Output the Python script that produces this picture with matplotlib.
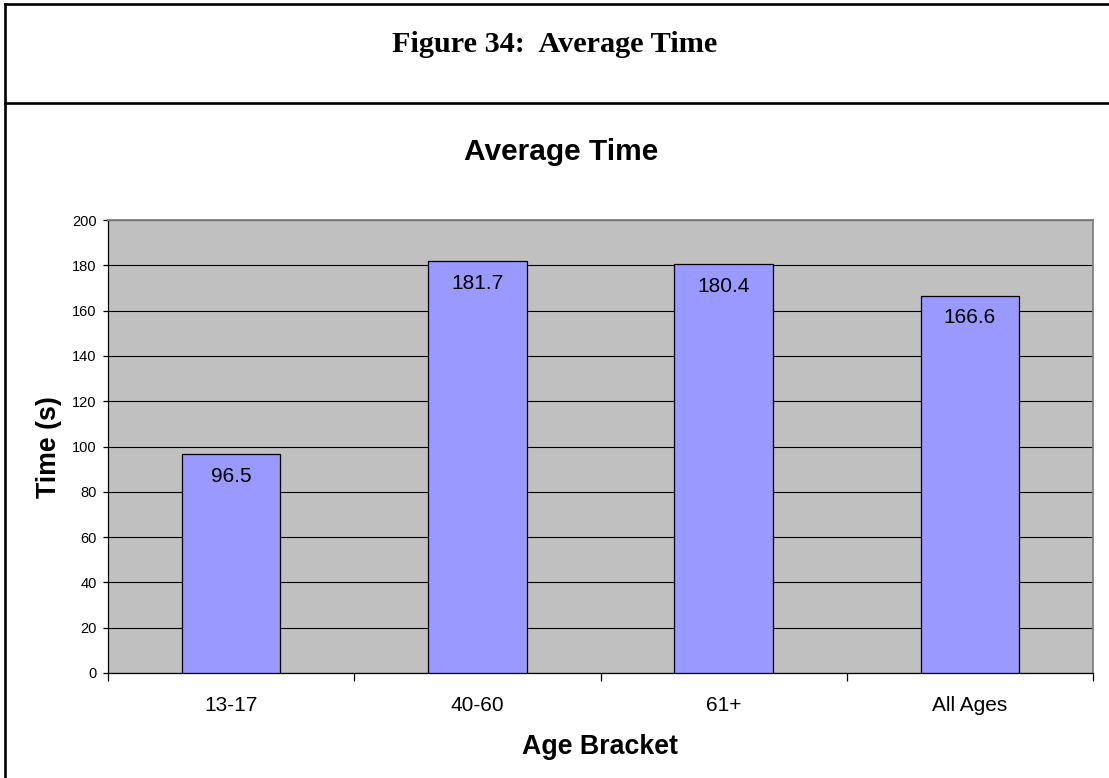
import matplotlib
matplotlib.use("Agg")
import matplotlib.pyplot as plt
from matplotlib.lines import Line2D
import numpy as np

# Data
categories = ["13-17", "40-60", "61+", "All Ages"]
avg_time = [96.5, 181.7, 180.4, 166.6]
y_ticks = [0, 20, 40, 60, 80, 100, 120, 140, 160, 180, 200]

W, H = 1109, 778
fig = plt.figure(figsize=(W / 100, H / 100), dpi=100)
fig.patch.set_facecolor("white")


def fx(px):
    return px / W


def fy(py):
    return 1 - py / H


# Frame around the figure caption and chart
frame_kw = dict(color="black", linewidth=1.9, transform=fig.transFigure,
                solid_capstyle="projecting")
fig.add_artist(Line2D([fx(5), fx(W)], [fy(4), fy(4)], **frame_kw))
fig.add_artist(Line2D([fx(5), fx(W)], [fy(103), fy(103)], **frame_kw))
fig.add_artist(Line2D([fx(5), fx(5)], [fy(4), fy(H)], **frame_kw))

fig.text(fx(554.5), fy(52), "Figure 34:  Average Time",
         family="Liberation Serif", fontweight="bold", fontsize=21.8,
         ha="center", va="baseline")

fig.text(fx(561), fy(160), "Average Time",
         family="Liberation Sans", fontweight="bold", fontsize=21.5,
         ha="center", va="baseline")

# Plot area
left, right, top, bottom = 108, 1093, 220, 673
ax = fig.add_axes([fx(left), fy(bottom), fx(right - left), (bottom - top) / H])
ax.set_facecolor("#C0C0C0")

x = np.arange(len(categories))
ax.set_xlim(-0.5, len(categories) - 0.5)
ax.set_ylim(0, 200)
ax.set_yticks(y_ticks)
ax.yaxis.grid(True, color="black", linewidth=0.8)
ax.set_axisbelow(True)

bars = ax.bar(x, avg_time, width=0.4, color="#9999FF",
              edgecolor="black", linewidth=0.9, zorder=3)

for xi, v in zip(x, avg_time):
    ax.annotate(f"{v:.1f}", xy=(xi, v), xytext=(0, -19.8),
                textcoords="offset points", ha="center", va="baseline",
                family="Liberation Sans", fontsize=15, zorder=4)

# Axes styling
for side in ("top", "right"):
    ax.spines[side].set_color("#808080")
    ax.spines[side].set_linewidth(1.3)
for side in ("left", "bottom"):
    ax.spines[side].set_color("black")
    ax.spines[side].set_linewidth(0.9)

ax.set_xticks(x)
ax.set_xticklabels(categories, family="Liberation Sans", fontsize=15)
ax.set_xticks(np.arange(-0.5, len(categories), 1.0), minor=True)
ax.tick_params(axis="x", which="major", length=0, pad=16.5)
ax.tick_params(axis="x", which="minor", length=5.5, width=0.9,
               color="black", direction="out")
ax.tick_params(axis="y", length=3.8, width=0.9, direction="out", pad=4.3,
               labelsize=10.5)
for lbl in ax.get_yticklabels():
    lbl.set_family("Liberation Sans")

fig.text(fx(600.5), fy(754), "Age Bracket",
         family="Liberation Sans", fontweight="bold", fontsize=19.3,
         ha="center", va="baseline")
fig.text(fx(49.5), fy(447), "Time (s)", rotation=90,
         family="Liberation Sans", fontweight="bold", fontsize=19.3,
         ha="center", va="center")

fig.savefig("out.png", dpi=100)
